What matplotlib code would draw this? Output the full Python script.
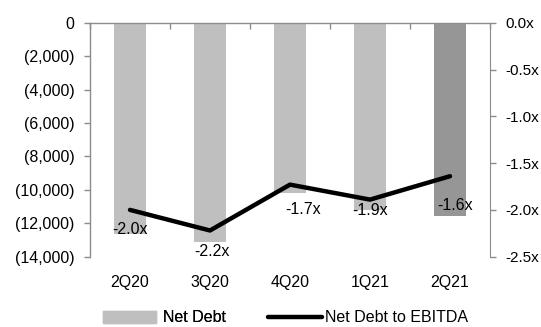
import matplotlib
matplotlib.use("Agg")
import matplotlib.pyplot as plt
from matplotlib.patches import Patch
from matplotlib.lines import Line2D
from matplotlib.ticker import FuncFormatter
import numpy as np

plt.rcParams['font.family'] = ['Liberation Sans', 'DejaVu Sans']

categories = ["2Q20", "3Q20", "4Q20", "1Q21", "2Q21"]
net_debt = [-12650, -13100, -10200, -11200, -11570]
ratio = [-2.00, -2.22, -1.73, -1.89, -1.64]
left_ticks = [0, -2000, -4000, -6000, -8000, -10000, -12000, -14000]
right_ticks = [0.0, -0.5, -1.0, -1.5, -2.0, -2.5]

bar_colors = ["#BFBFBF", "#BFBFBF", "#BFBFBF", "#BFBFBF", "#969696"]
label_dx = [0, 2, 13, 0, 5]
label_dy = [-20, -21, -25, -11, -29]

FS = 11.5
AX_COLOR = "#8C8C8C"

fig = plt.figure(figsize=(5.41, 3.27), dpi=100)
ax = fig.add_axes([90/541, (327-256.7)/327, 400/541, (256.7-22.7)/327])
x = np.arange(len(categories))
ax.bar(x, net_debt, width=0.4, color=bar_colors, zorder=2)
ax.set_xlim(-0.5, len(categories) - 0.5)
ax.set_ylim(-14000, 0)
ax.set_yticks(left_ticks)
ax.yaxis.set_major_formatter(FuncFormatter(lambda v, p: "0" if v == 0 else f"({abs(v):,.0f})"))
ax.set_xticks(x)
ax.set_xticklabels(categories)
ax.set_xticks(np.arange(-0.5, len(categories)), minor=True)
ax.tick_params(axis='x', which='major', length=0, labelsize=FS, pad=13, colors='black')
ax.tick_params(axis='x', which='minor', top=True, bottom=False, direction='in', length=4, color=AX_COLOR, width=1)
ax.tick_params(axis='y', length=4, color=AX_COLOR, labelsize=FS, pad=7, width=1)
for s in ['bottom', 'right']:
    ax.spines[s].set_visible(False)
for s in ['top', 'left']:
    ax.spines[s].set_color(AX_COLOR)
    ax.spines[s].set_linewidth(1)

ax2 = ax.twinx()
ax2.plot(x, ratio, color='black', linewidth=3.2, solid_capstyle='round', zorder=3)
ax2.set_ylim(-2.5, 0)
ax2.set_yticks(right_ticks)
ax2.yaxis.set_major_formatter(FuncFormatter(lambda v, p: f"{v:.1f}x"))
ax2.tick_params(axis='y', length=4, color=AX_COLOR, labelsize=11, pad=7, width=1)
for s in ['top', 'bottom', 'left']:
    ax2.spines[s].set_visible(False)
ax2.spines['right'].set_color(AX_COLOR)
for i, v in enumerate(ratio):
    ax2.annotate(f"{v:.1f}x", (x[i], v), xytext=(label_dx[i]*0.72, label_dy[i]*0.72),
                 textcoords='offset points', ha='center', va='center', fontsize=FS)

h1 = Patch(color="#BFBFBF", label="Net Debt")
h2 = Line2D([0], [0], color='black', linewidth=3.2, solid_capstyle='round', label="Net Debt to EBITDA")
leg_y = 318/327
leg1 = fig.legend(handles=[h1], loc='center left', bbox_to_anchor=(103/541, 1 - leg_y), frameon=False,
                  fontsize=FS, handlelength=3.3, handletextpad=0.45, borderpad=0, borderaxespad=0,
                  handleheight=0.7)
leg2 = fig.legend(handles=[h2], loc='center left', bbox_to_anchor=(268/541, 1 - leg_y), frameon=False,
                  fontsize=FS, handlelength=3.4, handletextpad=0.15, borderpad=0, borderaxespad=0)
fig.add_artist(leg1)

fig.savefig("out.png", dpi=100)
